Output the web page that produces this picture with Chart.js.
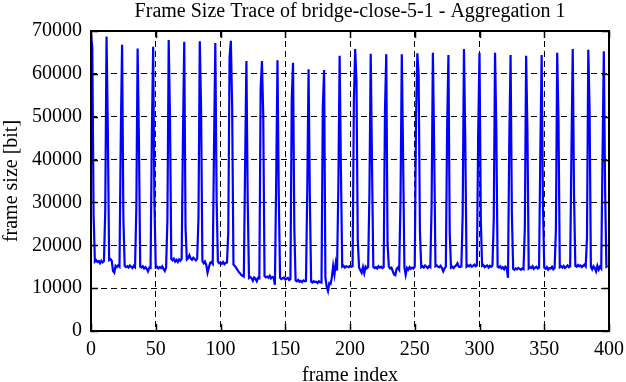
<!DOCTYPE html>
<html>
<head>
<meta charset="utf-8">
<script src="https://cdn.jsdelivr.net/npm/chart.js@4"></script>
<style>
  html, body { margin: 0; padding: 0; background: #fff; }
  #wrap { width: 626px; height: 382px; }
</style>
</head>
<body>
<div id="wrap"><canvas id="trace" width="626" height="382"></canvas></div>
<script>
// Frame sizes [bit], one line per GOP of 12 frames (I-frame first)
const frameSizes = [
  69500, 66000, 27000, 16200, 16500, 16100, 16300, 15800, 16400, 16000, 16300, 28000,
  68700, 46600, 16600, 16800, 16400, 14000, 13600, 15200, 14900, 15300, 15000, 45500,
  66800, 26400, 15200, 14900, 15100, 14800, 15300, 15000, 14700, 15200, 14900, 28500,
  65900, 44500, 15000, 14800, 15100, 14600, 14900, 14500, 13900, 14800, 14700, 46200,
  66300, 29400, 14800, 15000, 14600, 14900, 14700, 15100, 14500, 14000, 14800, 25900,
  67900, 49600, 16800, 16500, 16900, 16200, 16600, 16100, 16700, 16400, 16800, 45000,
  67500, 24000, 16700, 17000, 17700, 16900, 16600, 17100, 16800, 16500, 16900, 26500,
  67600, 52000, 16400, 15800, 16200, 15400, 13600, 14800, 15900, 16100, 15700, 43100,
  67200, 30600, 16200, 15800, 16000, 15700, 16100, 15600, 15900, 16000, 23000, 63900,
  67700, 52200, 15500, 15200, 14800, 14300, 13800, 13500, 13100, 12900, 12700, 38300,
  63000, 30600, 12400, 12600, 12300, 11700, 12500, 12200, 11600, 12400, 12300, 56500,
  63000, 50400, 12800, 12500, 12700, 12400, 12900, 12300, 12600, 12500, 10800, 35000,
  63200, 31700, 12400, 12100, 12300, 12500, 12000, 12200, 12400, 11900, 12100, 53900,
  62600, 24000, 11800, 11600, 11900, 11500, 11700, 11400, 11800, 11600, 11700, 32900,
  61100, 31000, 11500, 11300, 11600, 11400, 11500, 11200, 11600, 11400, 11300, 52200,
  60900, 12500, 10300,  9300, 11200, 11000, 12500, 15200, 13200, 15800, 14100, 33700,
  64200, 37200, 15000, 15200, 14800, 15100, 15000, 14900, 15200, 15000, 15100, 53900,
  65800, 58200, 21200, 14800, 14200, 13600, 14900, 13500, 15000, 14600, 14900, 32000,
  64700, 38500, 15000, 14700, 14900, 14600, 15100, 14800, 15000, 14700, 14900, 51200,
  64600, 20500, 15000, 14600, 14800, 14000, 13200, 13000, 14500, 14800, 14300, 30600,
  64600, 40700, 14900, 13100, 14700, 14300, 14900, 14500, 14800, 14600, 15000, 50000,
  64800, 59700, 23200, 14900, 15100, 14800, 15300, 15000, 14700, 15100, 14900, 29000,
  64900, 42400, 15100, 15300, 15000, 14900, 15200, 14700, 13900, 14600, 15000, 47300,
  64400, 22900, 14800, 15000, 14700, 15100, 15300, 15800, 15000, 14900, 15100, 27100,
  65800, 44600, 15000, 15300, 15100, 15400, 15000, 15200, 15500, 15100, 15300, 46500,
  64900, 26100, 15200, 15400, 14900, 15100, 15300, 14800, 15200, 15000, 15300, 25900,
  64900, 46700, 15000, 14800, 15100, 14600, 14900, 14400, 15000, 14700, 12400, 44600,
  64400, 27300, 14500, 14300, 14600, 14400, 14700, 14500, 14300, 14600, 14400, 24000,
  64200, 46900, 14600, 14900, 14700, 15100, 14500, 14800, 15000, 14600, 14800, 42500,
  64400, 29400, 14800, 14500, 14900, 14300, 14700, 14600, 15000, 14400, 14700, 23600,
  64900, 48800, 14900, 15100, 14800, 15200, 14700, 15000, 15300, 14900, 15100, 42000,
  65800, 31500, 15200, 15000, 15400, 15100, 15300, 14900, 15200, 15500, 15100, 21700,
  65600, 52000, 15000, 14400, 15100, 14700, 13900, 15200, 14300, 15000, 14600, 40700,
  65300, 32700, 15000, 15200
];

const chartTitle = 'Frame Size Trace of bridge-close-5-1 - Aggregation 1';
const xTitle = 'frame index';
const yTitle = 'frame size [bit]';
const xRange = [0, 400];
const yRange = [0, 70000];

const serif = "'Liberation Serif', 'DejaVu Serif', serif";

// dashed grid, but not on the frame itself
function gridColor(min, max) {
  return ctx => (ctx.tick && (ctx.tick.value === min || ctx.tick.value === max)) ? 'rgba(0,0,0,0)' : '#000';
}

// title, frame box and inner tick marks (gnuplot look)
const framePlugin = {
  id: 'frame',
  afterDraw(chart) {
    const { ctx, chartArea: a, scales } = chart;
    ctx.save();
    ctx.fillStyle = '#000';
    ctx.font = '20px ' + serif;
    ctx.textAlign = 'center';
    ctx.textBaseline = 'middle';
    ctx.fillText(chartTitle, (a.left + a.right) / 2, 12);

    ctx.strokeStyle = '#000';
    ctx.lineWidth = 1.5;
    ctx.beginPath();
    scales.y.ticks.forEach(t => {
      const y = Math.round(scales.y.getPixelForValue(t.value)) + 0.5;
      ctx.moveTo(a.left, y); ctx.lineTo(a.left + 7, y);
      ctx.moveTo(a.right, y); ctx.lineTo(a.right - 7, y);
    });
    scales.x.ticks.forEach(t => {
      const x = Math.round(scales.x.getPixelForValue(t.value)) + 0.5;
      ctx.moveTo(x, a.bottom); ctx.lineTo(x, a.bottom - 7);
      ctx.moveTo(x, a.top); ctx.lineTo(x, a.top + 7);
    });
    ctx.stroke();

    ctx.lineWidth = 2;
    ctx.strokeRect(a.left, a.top, a.right - a.left, a.bottom - a.top);
    ctx.restore();
  }
};

new Chart(document.getElementById('trace'), {
  type: 'line',
  data: {
    datasets: [{
      data: frameSizes.map((v, i) => ({ x: i, y: v })),
      borderColor: '#0000ff',
      borderWidth: 2.2,
      pointRadius: 0,
      tension: 0,
      fill: false
    }]
  },
  options: {
    responsive: false,
    animation: false,
    layout: { padding: { top: 31, right: 17, left: 0, bottom: 0 } },
    plugins: {
      legend: { display: false },
      title: { display: false },
      tooltip: { enabled: false }
    },
    scales: {
      x: {
        type: 'linear',
        min: xRange[0],
        max: xRange[1],
        afterFit: s => { s.height = 51; s.paddingLeft = 0; s.paddingRight = 0; },
        ticks: { stepSize: 50, color: '#000', font: { family: serif, size: 20 }, padding: 7, maxRotation: 0,
                 callback: v => String(v) },
        grid: { color: gridColor(0, 400), lineWidth: 1, drawTicks: false },
        border: { display: false, dash: [6, 4] },
        title: { display: true, text: xTitle, color: '#000', font: { family: serif, size: 20 },
                 padding: { top: 0, bottom: -6 } }
      },
      y: {
        min: yRange[0],
        max: yRange[1],
        afterFit: s => { s.width = 91; },
        ticks: { stepSize: 10000, color: '#000', font: { family: serif, size: 20 }, padding: 9,
                 callback: v => String(v) },
        grid: { color: gridColor(0, 70000), lineWidth: 1, drawTicks: false },
        border: { display: false, dash: [6, 4] },
        title: { display: true, text: yTitle, color: '#000', font: { family: serif, size: 20 }, padding: 0 }
      }
    }
  },
  plugins: [framePlugin]
});
</script>
</body>
</html>
